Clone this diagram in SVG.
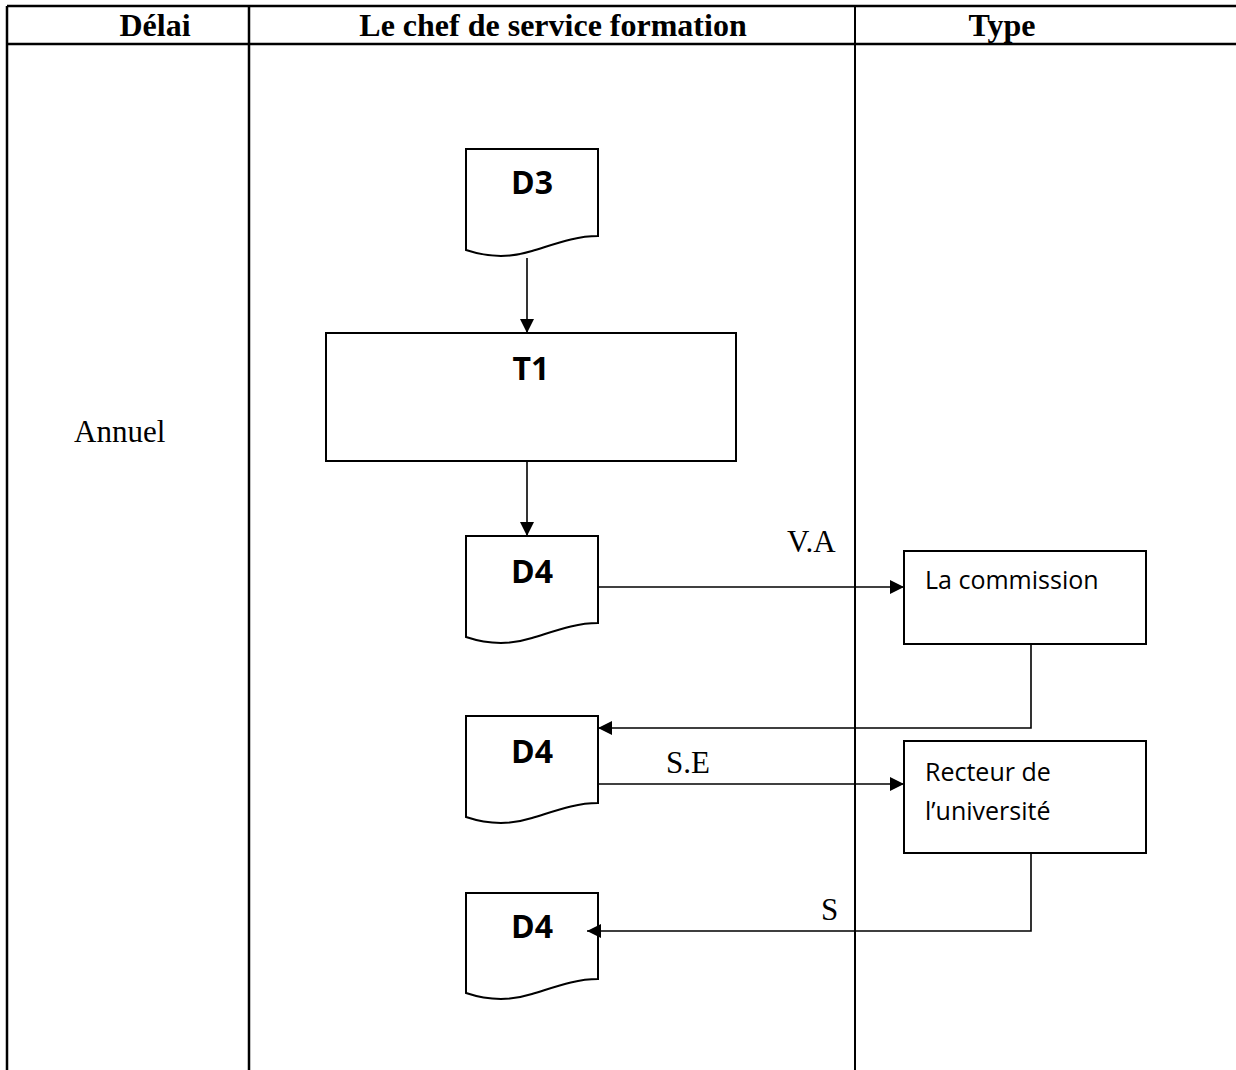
<svg xmlns="http://www.w3.org/2000/svg" width="1236" height="1070" viewBox="0 0 1236 1070">
<style>
.grid{stroke:#000;stroke-width:2.5;fill:none}
.box{stroke:#000;stroke-width:2;fill:#fff}
.con{stroke:#000;stroke-width:1.6;fill:none}
.hdr{font-family:"Liberation Serif",serif;font-weight:bold;font-size:32px;text-anchor:middle}
.ser{font-family:"Liberation Serif",serif;font-size:31px}
.doc{font-family:"Open Sans","Liberation Sans",sans-serif;font-weight:bold;font-size:32px;text-anchor:middle}
.lbl{font-family:"Open Sans","Liberation Sans",sans-serif;font-size:25px}
</style>
<defs>
<marker id="ah" viewBox="0 0 10 10" refX="10" refY="5" markerWidth="14" markerHeight="14" markerUnits="userSpaceOnUse" orient="auto">
<path d="M0,0 L10,5 L0,10 Z" fill="#000"/>
</marker>
</defs>
<rect width="1236" height="1070" fill="#fff"/>
<g id="table">
<line class="grid" x1="7" y1="6" x2="1236" y2="6"/>
<line class="grid" x1="7" y1="44" x2="1236" y2="44"/>
<line class="grid" x1="7" y1="6" x2="7" y2="1070"/>
<line class="grid" x1="249" y1="6" x2="249" y2="1070"/>
<line class="grid" x1="855" y1="6" x2="855" y2="1070" style="stroke-width:2"/>
<text class="hdr" x="155" y="36">Délai</text>
<text class="hdr" x="553" y="36">Le chef de service formation</text>
<text class="hdr" x="1002" y="36">Type</text>
<text class="ser" x="74" y="442">Annuel</text>
</g>
<g id="D3">
<path class="box" d="M466,149 H598 V236 C575,236 555,244 532,251 C510,258 490,258 466,250 Z"/>
<text class="doc" x="532" y="194">D3</text>
</g>
<g id="T1">
<rect class="box" x="326" y="333" width="410" height="128"/>
<text class="doc" x="531" y="380">T1</text>
</g>
<g id="D4a">
<path class="box" d="M466,536 H598 V623 C575,623 555,631 532,638 C510,645 490,645 466,637 Z"/>
<text class="doc" x="532" y="583">D4</text>
</g>
<g id="D4b">
<path class="box" d="M466,716 H598 V803 C575,803 555,811 532,818 C510,825 490,825 466,817 Z"/>
<text class="doc" x="532" y="763">D4</text>
</g>
<g id="D4c">
<path class="box" d="M466,893 H598 V979 C575,979 555,987 532,994 C510,1001 490,1001 466,993 Z"/>
<text class="doc" x="532" y="938">D4</text>
</g>
<g id="commission">
<rect class="box" x="904" y="551" width="242" height="93"/>
<text class="lbl" x="925" y="589">La commission</text>
</g>
<g id="recteur">
<rect class="box" x="904" y="741" width="242" height="112"/>
<text class="lbl" x="925" y="781">Recteur de</text>
<text class="lbl" x="925" y="820">l’université</text>
</g>
<g id="connectors">
<line class="con" x1="527" y1="258" x2="527" y2="333" marker-end="url(#ah)"/>
<line class="con" x1="527" y1="462" x2="527" y2="536" marker-end="url(#ah)"/>
<line class="con" x1="599" y1="587" x2="904" y2="587" marker-end="url(#ah)"/>
<polyline class="con" points="1031,645 1031,728 598,728" marker-end="url(#ah)"/>
<line class="con" x1="599" y1="784" x2="904" y2="784" marker-end="url(#ah)"/>
<polyline class="con" points="1031,854 1031,931 587,931" marker-end="url(#ah)"/>
<text class="ser" x="787" y="552">V.A</text>
<text class="ser" x="666" y="773">S.E</text>
<text class="ser" x="821" y="920">S</text>
</g>
</svg>
